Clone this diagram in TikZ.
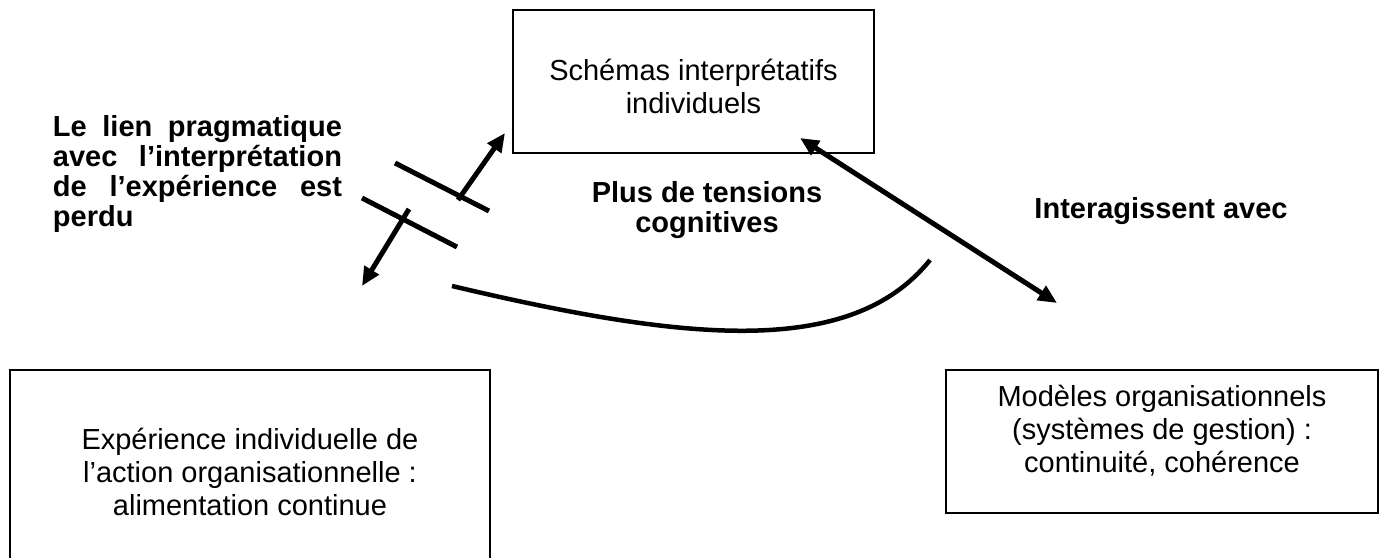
\documentclass[tikz,border=0pt]{standalone}
\usepackage{fontspec}
\setmainfont{Liberation Sans}
\usetikzlibrary{arrows.meta, positioning}

\newcommand{\boxfont}{\fontsize{11.6pt}{13.2pt}\selectfont}
\newcommand{\notefont}{\fontsize{11.6pt}{12pt}\selectfont\bfseries}
\newcommand{\jline}[1]{\leavevmode\hbox to 115.6pt{\spaceskip=0.28em plus 1fil\relax #1}}

\begin{document}
\begin{tikzpicture}[
    x=0.4pt, y=-0.4pt,
    box/.style={rectangle, draw, line width=0.6pt, inner sep=0pt},
    boxtext/.style={align=center, font=\boxfont, inner sep=0pt},
    note/.style={align=center, font=\notefont, inner sep=0pt},
    cutline/.style={line width=2pt},
    arrow/.style={-{Triangle[length=7.5pt, width=6.5pt]}, line width=2pt},
    biarrow/.style={{Triangle[length=7.5pt, width=6.5pt]}-{Triangle[length=7.5pt, width=6.5pt]}, line width=2pt}
]
\useasboundingbox (0,0) rectangle (1383,558);
\clip (0,0) rectangle (1383,558);

% boxes
\node[box, minimum width=144.4pt, minimum height=57.2pt] (schemas) at (693.5,81.5) {};
\node[box, minimum width=192pt, minimum height=78pt] (experience) at (250,467.5) {};
\node[box, minimum width=172.8pt, minimum height=57.2pt] (modeles) at (1162,441.5) {};

\node[boxtext] (schemas-txt) at (693.5,86) {Schémas interprétatifs\\individuels};
\node[boxtext] (experience-txt) at (250,472) {Expérience individuelle de\\l’action organisationnelle :\\alimentation continue};
\node[boxtext] (modeles-txt) at (1162,431) {Modèles organisationnels\\(systèmes de gestion) :\\continuité, cohérence};

% bold notes
\node[note, text width=115.6pt, align=left] (lien) at (197.5,174) {\jline{Le lien pragmatique}\\\jline{avec l’interprétation}\\\jline{de l’expérience est}\\perdu};
\node[note] (tensions) at (707,210) {Plus de tensions\\cognitives};
\node[note] (interagissent) at (1161,211) {Interagissent avec};

% broken link
\coordinate (cutA1) at (395,163);
\coordinate (cutA2) at (489,211);
\coordinate (cutB1) at (362,198);
\coordinate (cutB2) at (457,247);
\draw[cutline] (cutA1) -- (cutA2);
\draw[cutline] (cutB1) -- (cutB2);

\coordinate (upTail) at (458,200);
\coordinate (upTip) at (505,133);
\coordinate (downTail) at (409,209);
\coordinate (downTip) at (362,286);
\draw[arrow] (upTail) -- (upTip);
\draw[arrow] (downTail) -- (downTip);

% interaction
\coordinate (linkA) at (800,138);
\coordinate (linkB) at (1057,303);
\draw[biarrow] (linkA) -- (linkB);

% tension curve
\coordinate (curveA) at (452,286);
\coordinate (curveB) at (930,260);
\draw[line width=1.8pt] (curveA) .. controls (680,340) and (850,360) .. (curveB);

\end{tikzpicture}
\end{document}
